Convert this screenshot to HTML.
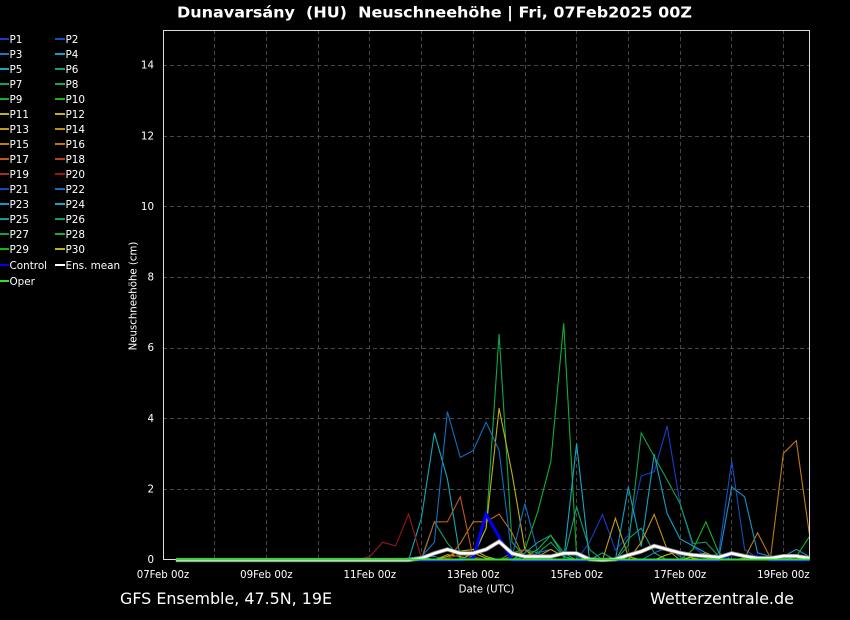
<!DOCTYPE html>
<html><head><meta charset="utf-8">
<style>
html,body{margin:0;padding:0;background:#000;}
svg{display:block;}
text{font-family:"DejaVu Sans","Liberation Sans",sans-serif;fill:#fff;}
.pre{white-space:pre;}
</style></head><body>
<svg id="s" width="850" height="620" viewBox="0 0 850 620" xmlns="http://www.w3.org/2000/svg">
<rect width="850" height="620" fill="#000"/>
<!-- title -->
<text class="pre" xml:space="preserve" x="177" y="17.5" font-size="14.7" font-weight="bold" textLength="515" lengthAdjust="spacingAndGlyphs">Dunavarsány  (HU)  Neuschneehöhe | Fri, 07Feb2025 00Z</text>
<!-- grid -->
<g stroke="#464646" stroke-width="1" stroke-dasharray="4,3" fill="none">
<line x1="163" y1="489.5" x2="810" y2="489.5"/>
<line x1="163" y1="418.5" x2="810" y2="418.5"/>
<line x1="163" y1="348.5" x2="810" y2="348.5"/>
<line x1="163" y1="277.5" x2="810" y2="277.5"/>
<line x1="163" y1="206.5" x2="810" y2="206.5"/>
<line x1="163" y1="136.5" x2="810" y2="136.5"/>
<line x1="163" y1="65.5" x2="810" y2="65.5"/>
<line x1="214.5" y1="30" x2="214.5" y2="560"/>
<line x1="266.5" y1="30" x2="266.5" y2="560"/>
<line x1="318.5" y1="30" x2="318.5" y2="560"/>
<line x1="369.5" y1="30" x2="369.5" y2="560"/>
<line x1="421.5" y1="30" x2="421.5" y2="560"/>
<line x1="473.5" y1="30" x2="473.5" y2="560"/>
<line x1="525.5" y1="30" x2="525.5" y2="560"/>
<line x1="576.5" y1="30" x2="576.5" y2="560"/>
<line x1="628.5" y1="30" x2="628.5" y2="560"/>
<line x1="680.5" y1="30" x2="680.5" y2="560"/>
<line x1="731.5" y1="30" x2="731.5" y2="560"/>
<line x1="783.5" y1="30" x2="783.5" y2="560"/>
</g>
<!-- y tick labels -->
<g font-size="10.3" text-anchor="end">
<text x="154" y="563.2">0</text>
<text x="154" y="492.5">2</text>
<text x="154" y="421.9">4</text>
<text x="154" y="351.2">6</text>
<text x="154" y="280.6">8</text>
<text x="154" y="209.9">10</text>
<text x="154" y="139.3">12</text>
<text x="154" y="68.6">14</text>
</g>
<!-- x tick labels -->
<g font-size="10.2" text-anchor="middle">
<text x="163" y="578">07Feb 00z</text>
<text x="266.4" y="578">09Feb 00z</text>
<text x="369.8" y="578">11Feb 00z</text>
<text x="473.2" y="578">13Feb 00z</text>
<text x="576.6" y="578">15Feb 00z</text>
<text x="680" y="578">17Feb 00z</text>
<text x="783.4" y="578">19Feb 00z</text>
</g>
<text x="486.5" y="592.7" font-size="10.2" text-anchor="middle">Date (UTC)</text>
<text transform="translate(136.5,296) rotate(-90)" font-size="10.2" text-anchor="middle">Neuschneehöhe (cm)</text>
<!-- bottom -->
<text x="120" y="604" font-size="15.7" textLength="212" lengthAdjust="spacingAndGlyphs">GFS Ensemble, 47.5N, 19E</text>
<text x="650" y="604" font-size="15.7" textLength="144" lengthAdjust="spacingAndGlyphs">Wetterzentrale.de</text>
<g id="series"></g>
<!-- frame -->
<rect x="163.5" y="30.5" width="646" height="529" fill="none" stroke="#dcdcdc" stroke-width="1"/>
<g id="top"></g>
<!-- legend -->
<g id="legend" font-size="10.4"></g>
</svg>
<script>
(function(){
var NS="http://www.w3.org/2000/svg";
function X(t){return 163+t*12.925;}
function Y(v){return 560-v*35.33;}
function pts(d){var a=[];for(var t=1;t<=50;t++){a.push(X(t).toFixed(1)+","+Y(d[t]||0).toFixed(1));}return a.join(" ");}
function line(g,d,c,w){var p=document.createElementNS(NS,"polyline");p.setAttribute("points",pts(d));p.setAttribute("fill","none");p.setAttribute("stroke",c);p.setAttribute("stroke-width",w);p.setAttribute("stroke-linejoin","miter");g.appendChild(p);}
var cols=["#1a3cc8","#1050c0","#1a78c0","#10a0c0","#10a8b8","#10a080","#10a060","#10a848","#10b030","#18b818",
"#b8b810","#c0b010","#c0a010","#c09010","#c07c10","#c07010","#c05818","#b84020","#a83020","#981818",
"#1048c0","#1070c0","#1890c8","#10a8c8","#10a090","#10a070","#10a050","#10b038","#10b820","#b8b810"];
var D={
1:{32:0,33:0.5,34:1.29,35:0.28,36:0.7,37:2.38,38:2.5,39:3.79,40:1.6,41:0.38,42:0.1},
2:{43:0.2,44:2.8,45:0.3,46:0.05},
3:{19:0.05,20:0.1,21:0.1,29:0.2,30:0.3,31:0.1,38:0.2,39:0.35,40:0.1},
4:{36:2.07,37:0.38,38:3.0,39:1.32,40:0.6,41:0.4,42:0.2},
5:{20:1.2,21:3.6,22:2.3,23:0.05},
6:{34:0.2,36:0.6,37:0.9,38:0.2},
7:{20:0.05,21:1.08,22:0.48,23:0.05,28:0.3,29:0.2,30:0.5,31:0.1},
8:{24:0.1,25:0.9,26:6.4,27:0.5,28:0.1},
9:{27:0.2,28:0.3,29:1.37,30:2.78,31:6.7,32:0.1},
10:{41:0.3,42:1.08,43:0.2},
11:{22:0.1,23:0.25,24:0.3,25:0.1,41:0.1,42:0.2,43:0.05},
12:{24:0.1,25:0.9,26:4.3,27:2.45,28:0.3},
13:{35:1.18,36:0.1,22:0.15,23:0.1},
14:{37:0.5,38:1.29,39:0.3,29:0.1,30:0.3,31:0.1},
15:{45:0.05,46:0.77,47:0.05,48:3.02,49:3.38,50:0.75},
16:{23:0.47,24:1.08,25:1.08,26:1.3,27:0.77},
17:{21:1.08,22:1.08,23:1.79,24:0.05},
18:{27:0.1,28:0.3,29:0.1},
19:{22:0.05,23:0.15,24:0.1},
20:{16:0.1,17:0.5,18:0.4,19:1.3,20:0.05},
21:{47:0.1,48:0.05,30:0.1,31:0.25,32:0.1},
22:{20:0.1,21:0.5,22:4.2,23:2.9,24:3.1,25:3.9,26:3.1,27:0.1,28:1.6,29:0.2},
23:{43:0.05,44:2.07,45:1.79,46:0.2,47:0.1,48:0.1,49:0.3,50:0.1},
24:{32:3.3,19:0.05,20:0.1},
25:{28:0.2,29:0.5,30:0.7,31:0.1},
26:{32:1.5,33:0.3},
27:{36:0.4,37:3.6,38:2.93,39:2.27,40:1.6,41:0.47,42:0.5,43:0.1},
28:{28:0.1,29:0.3,30:0.7,31:0.2},
29:{49:0.1,50:0.66},
30:{24:0.2,25:0.05,39:0.15,40:0.25,41:0.05}
};
var g=document.getElementById("series");
for(var i=1;i<=30;i++){line(g,D[i],cols[i-1],1.1);}
var top=document.getElementById("top");
line(top,{24:0.05,25:1.3,26:0.65,44:0.15,45:0.1,46:0.1},"#0000ff",3);
var mean={20:0.05,21:0.19,22:0.3,23:0.19,24:0.19,25:0.3,26:0.52,27:0.19,28:0.1,29:0.1,30:0.1,31:0.19,32:0.19,33:0.02,35:0.02,36:0.14,37:0.24,38:0.4,39:0.3,40:0.2,41:0.14,42:0.11,43:0.08,44:0.19,45:0.11,46:0.05,47:0.05,48:0.11,49:0.11,50:0.05};
line(top,mean,"#888",4.2);
line(top,mean,"#fff",2.6);
var op=document.createElementNS(NS,"line");op.setAttribute("x1",176);op.setAttribute("x2",810);op.setAttribute("y1",559.5);op.setAttribute("y2",559.5);op.setAttribute("stroke","#30e030");op.setAttribute("stroke-width",2);top.appendChild(op);
var L=document.getElementById("legend");
function entry(x0,x1,y,c,label){var l=document.createElementNS(NS,"line");l.setAttribute("x1",x0);l.setAttribute("x2",x1);l.setAttribute("y1",y);l.setAttribute("y2",y);l.setAttribute("stroke",c);l.setAttribute("stroke-width",2);L.appendChild(l);
var t=document.createElementNS(NS,"text");t.setAttribute("x",x1+0.5);t.setAttribute("y",y+3.8);t.textContent=label;L.appendChild(t);}
for(var i=1;i<=30;i++){var col=(i-1)%2,row=Math.floor((i-1)/2);var y=39+row*15;
if(col==0)entry(0,9,y,cols[i-1],"P"+i);else entry(55,65,y,cols[i-1],"P"+i);}
entry(0,9,265,"#0000ff","Control");
entry(55,65,265,"#ffffff","Ens. mean");
entry(0,9,281,"#30e030","Oper");
})();
</script>
</body></html>
